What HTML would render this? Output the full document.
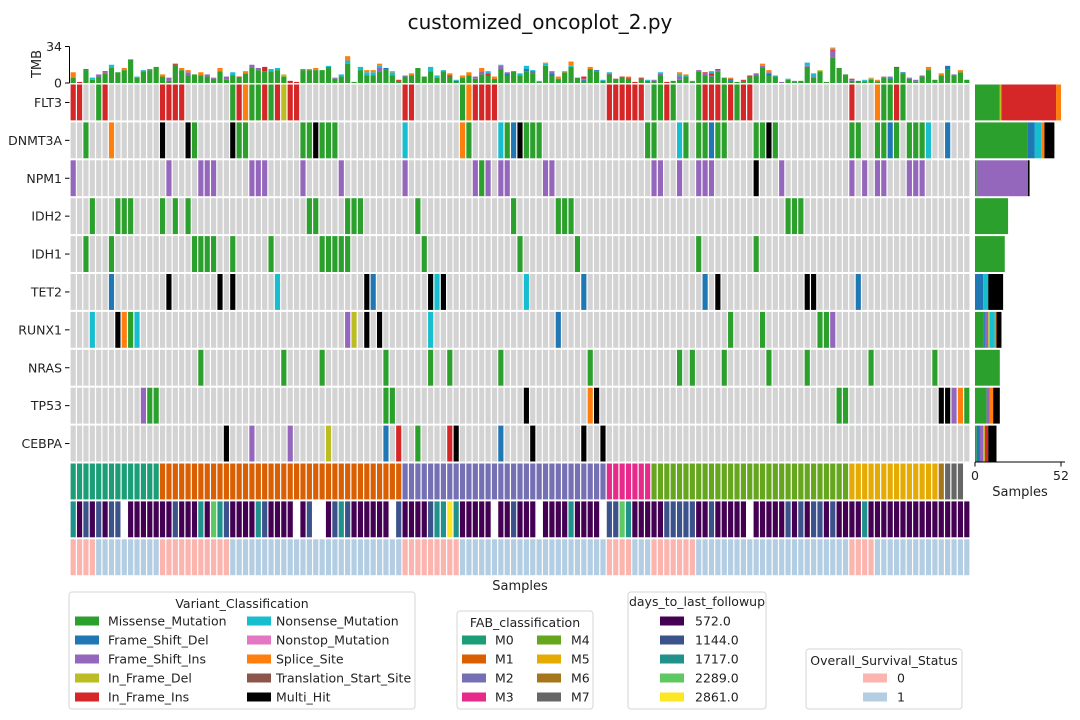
<!DOCTYPE html>
<html><head><meta charset="utf-8">
<style>
html,body{margin:0;padding:0;background:#fff;}
svg{display:block;font-family:"DejaVu Sans","Liberation Sans",sans-serif;}
</style></head>
<body>
<svg id="chart" width="1080" height="720" viewBox="0 0 1080 720" xmlns="http://www.w3.org/2000/svg">
<text x="540" y="29" text-anchor="middle" font-size="20" fill="#111">customized_oncoplot_2.py</text>
<g id="tmb"></g><g id="heat"></g><g id="side"></g><g id="legends"></g>
</svg>
<script>
const genes = ["FLT3","DNMT3A","NPM1","IDH2","IDH1","TET2","RUNX1","NRAS","TP53","CEBPA"];
const variantTypes = ["G","B","P","Y","R","C","K","O","T","M"];
const variantNames = ["Missense_Mutation","Frame_Shift_Del","Frame_Shift_Ins","In_Frame_Del","In_Frame_Ins","Nonsense_Mutation","Nonstop_Mutation","Splice_Site","Translation_Start_Site","Multi_Hit"];
const variantColors = ["#2ca02c","#1f77b4","#9467bd","#bcbd22","#d62728","#17becf","#e377c2","#ff7f0e","#8c564b","#000000"];
const mutFLT3 = "0R 1R 4G 5R 14R 15R 16R 17R 25G 26R 27O 28G 29G 30R 31G 32R 33Y 34R 35R 52R 53R 61G 62O 63R 64R 65R 66R 84R 85R 86R 87R 88R 89R 91G 92G 93R 94G 98G 99R 100R 101R 102G 103R 104G 105R 106R 122R 126O 127G 128G 129R 130G";
const mutDNMT3A = "2G 6O 14M 18M 19G 25M 26G 27G 36G 37G 38M 39G 40G 41G 52C 61O 62G 67C 68G 69B 70M 71G 72G 73G 90G 91G 95C 96G 98G 99G 100B 101G 102G 107G 108G 109M 110G 122G 123G 126G 127G 128B 129G 131G 132G 133G 134C 137B";
const mutNPM1 = "0P 15P 20P 21P 22P 28P 29P 30P 36P 42P 52P 63P 64G 65P 67P 68P 74P 75P 91P 92P 95P 98P 99P 100P 107M 111P 122P 124P 126P 127P 131P 132P 133P";
const mutIDH2 = "3G 7G 8G 9G 14G 16G 18G 37G 38G 43G 44G 45G 54G 69G 76G 77G 78G 112G 113G 114G";
const mutIDH1 = "2G 6G 19G 20G 21G 22G 25G 31G 39G 40G 41G 42G 43G 55G 70G 79G 98G 107G";
const mutTET2 = "6B 15M 23M 25M 32C 46M 47B 56M 57C 58M 71C 80B 99B 101M 115M 116M 123B";
const mutRUNX1 = "3C 7M 8O 9G 10C 43P 44Y 46M 48M 56C 76B 103G 108G 117G 118G 119P";
const mutNRAS = "20G 33G 39G 49G 56G 59G 67G 81G 95G 97G 102G 109G 115G 125G 135G";
const mutTP53 = "11P 12G 13G 49G 50G 71M 81O 82M 120G 121G 136M 137M 138P 139O 140G";
const mutCEBPA = "24M 28P 34P 40Y 49B 51R 54G 59R 60M 67B 72M 80M 83M";
const tmb = ["G5O5","R1","G12B1","G3C2","G6P2","G9P1R1","G14C3","G10","G12O2","G22","G5C1","G11C1","G12P1","G15","G6O2","G2P3","G17R1","G12O2","G7P3O2","G8","G7O3","G6P2","G4P1","G11O3","G3P3","G7C3","G5R1","G9O2","G14P3","G12P2","G11R4","G11C2","G12C2","G6Y2","R2","R1","G12P1","G12O1","G12O2","G12","G15C1","G4P1","G6C2","G18C3O4","G1","G12C3","G7C3O2","G7C3O2","G11P3C2O2","G13B1","G7C3O1","G2R1","G5R1C1","G7O2","G14","G6","G11C4","G5C2","G11C1","G6R1O2","G1R1C1","G5O2","G7O3","G4P2","G8P3O3","G7R2C2","G3R1O2","G13P3C1","G7B2P1","G11","G7C2","G11B2C3","G9B1R1C1","G1C1","G16C2O1","G7B2P2","G3B1O2","G10O1","G15C1O4","G5","G2B1P1R2","G13O2","G11B1","G1B1C1","G7R1C2","G3R1","G5R1","G4R1O1","R1","G4R1","G2C1","G2P1","G7P2C1","R1","G2","G3P3C2O2","G6C1O1","G1P1","G11P1","G7P2R1","G6P1R2C2","G11P1R1","G5","G2B1R1O1","G1","G2R1","G6R1","G7P2","G14P2O2","G7B2P1O2","G6C1","P1","G3C1","G1P1","G2","G15P1C3","G5P1C3","G11Y1","G1","G24P6R1C1O1","G14","G8","G2P1R1","G1B1","G1P1C1","G3P1Y1","G1P1O1","G5P1","G4B1P1","G14R1","G9B1","G4P1","G1P2","G6P1","G12C1O2","G3","G7O2","G13B3","G7P1","G10O2","G3"];
const fabNames = ["M0","M1","M2","M3","M4","M5","M6","M7"];
const fabColors = ["#1b9e77","#d95f02","#7570b3","#e7298a","#66a61e","#e6ab02","#a6761d","#666666"];
const fab = [0,0,0,0,0,0,0,0,0,0,0,0,0,0, 1,1,1,1,1,1,1,1,1,1,1,1,1,1,1,1,1,1,1,1,1,1,1,1,1,1,1,1,1,1,1,1,1,1,1,1,1,1, 2,2,2,2,2,2,2,2,2,2,2,2,2,2,2,2,2,2,2,2,2,2,2,2,2,2,2,2,2,2,2,2, 3,3,3,3,3,3,3, 4,4,4,4,4,4,4,4,4,4,4,4,4,4,4,4,4,4,4,4,4,4,4,4,4,4,4,4,4,4,4, 5,5,5,5,5,5,5,5,5,5,5,5,5,5, 6, 7,7,7, -1];
const dayNames = ["572.0","1144.0","1717.0","2289.0","2861.0"];
const dayColors = ["#440154","#3b528b","#21918c","#5ec962","#fde725"];
const days = [2,0,1,0,1,0,1,1,-1,0,0,0,0,0,0,0,1,0,0,0,2,0,3,2,1,0,0,0,0,2,1,0,0,0,0,-1,0,1,-1,-1,0,1,2,1,0,0,0,0,0,0,-1,1,0,0,0,0,1,2,2,4,2,0,0,0,0,0,-1,0,0,1,0,0,0,-1,0,0,0,0,2,0,0,0,0,-1,1,1,3,2,0,0,0,0,0,1,1,1,1,1,0,0,1,0,0,0,0,0,-1,0,0,0,0,0,1,0,1,0,1,1,0,1,0,0,0,0,2,0,0,0,0,0,0,0,0,0,0,0,0,0,0,0,0];
const osNames = ["0","1"];
const osColors = ["#fbb4ae","#b3cde3"];
const os = [0,0,0,0,1,1,1,1,1,1,1,1,1,1,0,0,0,0,0,0,0,0,0,0,0,1,1,1,1,1,1,1,1,1,1,1,1,1,1,1,1,1,1,1,1,1,1,1,1,1,1,1,0,0,0,0,0,0,0,0,0,1,1,1,1,1,1,1,1,1,1,1,1,1,1,1,1,1,1,1,1,1,1,1,0,0,0,0,1,1,1,0,0,0,0,0,0,0,1,1,1,1,1,1,1,1,1,1,1,1,1,1,1,1,1,1,1,1,1,1,1,1,0,0,0,0,1,1,1,1,1,1,1,1,1,1,1,1,1,1,1];
const mutStrings = [mutFLT3,mutDNMT3A,mutNPM1,mutIDH2,mutIDH1,mutTET2,mutRUNX1,mutNRAS,mutTP53,mutCEBPA];
const tmbMax = 34, sideMax = 52;

const NS = "http://www.w3.org/2000/svg";
const N = tmb.length;
const X0 = 70, X1 = 970, colW = (X1 - X0) / N;
const Y0 = 83.5, rowH = 37.9;
const xCol = i => X0 + i * colW;
const yRow = r => Y0 + r * rowH;
const yTmb = v => 83 - v * (36.5 / tmbMax);
const xSide = v => 975 + v * (86 / sideMax);
function mk(tag, attrs, parent){ const e=document.createElementNS(NS,tag); for(const k in attrs) e.setAttribute(k,attrs[k]); parent.appendChild(e); return e; }
function parseSegs(s){ const out=[]; const re=/([A-Z])(\d+)/g; let m; while((m=re.exec(s))) out.push([m[1],+m[2]]); return out; }
const colorOf = t => variantColors[variantTypes.indexOf(t)];

// TMB
const gT = document.getElementById('tmb');
tmb.forEach((s,i)=>{
  const segs = parseSegs(s).sort((a,b)=>variantTypes.indexOf(a[0])-variantTypes.indexOf(b[0]));
  let acc=0;
  segs.forEach(([t,c])=>{
    const r = mk('rect',{x:xCol(i)+0.6,y:yTmb(acc+c),width:colW-1.2,height:yTmb(acc)-yTmb(acc+c),fill:colorOf(t)},gT);
    
    
    acc+=c;
  });
});
let ax = mk('line',{x1:69.5,y1:yTmb(tmbMax),x2:69.5,y2:83,stroke:'#000','stroke-width':1},gT);


[0,tmbMax].forEach(v=>{
  mk('line',{x1:65,y1:yTmb(v),x2:69.5,y2:yTmb(v),stroke:'#000'},gT);
  const t=mk('text',{x:62,y:yTmb(v)+4.5,'text-anchor':'end','font-size':12.5,fill:'#222'},gT);
  t.textContent=v;
  
  
});
let tl = mk('text',{x:0,y:0,transform:'translate(41,64) rotate(-90)','text-anchor':'middle','font-size':13,fill:'#222'},gT);
tl.textContent='TMB';



// heatmap
const gH = document.getElementById('heat');
const geneMaps = mutStrings.map(s=>{ const m={}; s.split(/\s+/).forEach(tok=>{ const mm=tok.match(/(\d+)([A-Z])/); if(mm) m[+mm[1]]=mm[2]; }); return m; });
genes.forEach((g,r)=>{
  for(let i=0;i<N;i++){
    const t = geneMaps[r][i];
    const c = mk('rect',{x:xCol(i)+0.6,y:yRow(r)+1,width:colW-1.2,height:rowH-2,fill:t?colorOf(t):'#d3d3d3'},gH);
    
    
  }
  mk('line',{x1:65,y1:yRow(r)+rowH/2,x2:69.5,y2:yRow(r)+rowH/2,stroke:'#000'},gH);
  const lab = mk('text',{x:62,y:yRow(r)+rowH/2+4.5,'text-anchor':'end','font-size':12.5,fill:'#222'},gH);
  lab.textContent=g;
  
  
});
const annots = [[fab,fabColors],[days,dayColors],[os,osColors]];
annots.forEach(([arr,cols],j)=>{
  const r = genes.length + j;
  arr.forEach((v,i)=>{
    if(v<0) return;
    const c = mk('rect',{x:xCol(i)+0.6,y:yRow(r)+1,width:colW-1.2,height:rowH-2,fill:cols[v]},gH);
    
    
  });
});
let xl = mk('text',{x:520,y:590,'text-anchor':'middle','font-size':13,fill:'#222'},gH);
xl.textContent='Samples';



// side bars
const gS = document.getElementById('side');
genes.forEach((g,r)=>{
  const counts = variantTypes.map(t=>Object.values(geneMaps[r]).filter(v=>v===t).length);
  let acc=0;
  counts.forEach((c,k)=>{
    if(!c) return;
    const b = mk('rect',{x:xSide(acc),y:yRow(r)+1,width:xSide(acc+c)-xSide(acc),height:rowH-2,fill:variantColors[k]},gS);
    
    
    acc+=c;
  });
});
const axY = yRow(genes.length) - 0.5;
let sax = mk('line',{x1:975,y1:axY,x2:1065,y2:axY,stroke:'#000'},gS);


[0,sideMax].forEach(v=>{
  mk('line',{x1:xSide(v),y1:axY,x2:xSide(v),y2:axY+4.5,stroke:'#000'},gS);
  const t=mk('text',{x:xSide(v),y:axY+18,'text-anchor':'middle','font-size':12.5,fill:'#222'},gS);
  t.textContent=v;
  
  
});
let st = mk('text',{x:1020,y:axY+34,'text-anchor':'middle','font-size':13,fill:'#222'},gS);
st.textContent='Samples';



// legends
const gL = document.getElementById('legends');
function legend(name, box, title, titleX, titleY, entries){
  const g = mk('g',{},gL);
  
  
  mk('rect',{x:box[0],y:box[1],width:box[2],height:box[3],rx:3,fill:'#fff',stroke:'#d6d6d6'},g);
  const t=mk('text',{x:titleX,y:titleY,'text-anchor':'middle','font-size':12.5,fill:'#222'},g);
  t.textContent=title;
  entries.forEach(([px,ty,col,label,tx])=>{
    const p=mk('rect',{x:px,y:ty-4.5,width:24,height:9,fill:col},g);
    
    
    const l=mk('text',{x:tx,y:ty+4.5,'font-size':12.5,fill:'#222'},g);
    l.textContent=label;
    
    
  });
}
const rowsY=[621,640,659,678,697];
legend('variant-legend',[69,592,346,117],'Variant_Classification',242,608,
  variantNames.map((n,k)=>[k<5?75:247, rowsY[k%5], variantColors[k], n, k<5?108:276]));
legend('fab-legend',[457,611,136,98],'FAB_classification',525,627,
  fabNames.map((n,k)=>[k<4?462:537, rowsY[1+k%4], fabColors[k], n, k<4?495:571]));
legend('days-legend',[628,592,138,117],'days_to_last_followup',697,606,
  dayNames.map((n,k)=>[660, rowsY[k], dayColors[k], n, 695]));
legend('os-legend',[806,649,156,60],'Overall_Survival_Status',884,665,
  osNames.map((n,k)=>[863, rowsY[3+k], osColors[k], n, 897]));
</script>
</body></html>
